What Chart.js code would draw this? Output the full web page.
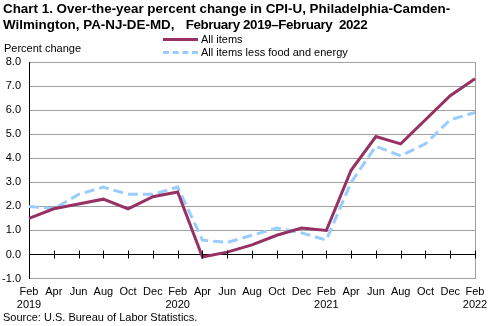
<!DOCTYPE html>
<html>
<head>
<meta charset="utf-8">
<script src="https://cdn.jsdelivr.net/npm/chart.js@4"></script>
<style>
body { margin: 0; background: #fff; }
#wrap { position: relative; width: 496px; height: 326px; font-family: "Liberation Sans", Arial, sans-serif; color: #000; }
#wrap canvas { position: absolute; left: 0; top: 0; }
.title { position: absolute; left: 3px; top: 1px; font-weight: bold; font-size: 13.4px; line-height: 16px; white-space: nowrap; }
.title .dates { letter-spacing: -0.4px; }
.unit { position: absolute; left: 4px; top: 42px; font-size: 11px; }
.source { position: absolute; left: 3px; top: 311px; font-size: 11px; }
.legend { position: absolute; left: 163px; top: 33px; font-size: 11px; line-height: 13px; }
.legend div { display: flex; align-items: center; white-space: nowrap; }
.legend span.swatch { display: inline-block; width: 35px; height: 0; margin-right: 3px; }
</style>
</head>
<body>
<div id="wrap">
    <canvas id="chart" width="496" height="326"></canvas>
    <div class="title">Chart 1. Over-the-year percent change in CPI-U, Philadelphia-Camden-<br>Wilmington, PA-NJ-DE-MD,&nbsp;&nbsp; <span class="dates">February 2019&ndash;February&nbsp; 2022</span></div>
    <div class="unit">Percent change</div>
    <div class="legend" id="legend"></div>
    <div class="source">Source: U.S. Bureau of Labor Statistics.</div>
</div>
<script>
const months = ['Feb', 'Apr', 'Jun', 'Aug', 'Oct', 'Dec', 'Feb', 'Apr', 'Jun', 'Aug', 'Oct', 'Dec', 'Feb', 'Apr', 'Jun', 'Aug', 'Oct', 'Dec', 'Feb']
const years = ['2019', '', '', '', '', '', '2020', '', '', '', '', '', '2021', '', '', '', '', '', '2022']
const allItems = [1.5, 1.9, 2.1, 2.3, 1.9, 2.4, 2.6, -0.1, 0.1, 0.4, 0.8, 1.1, 1.0, 3.5, 4.9, 4.6, 5.6, 6.6, 7.3]
const lessFoodEnergy = [2.0, 1.9, 2.5, 2.8, 2.5, 2.5, 2.8, 0.6, 0.5, 0.8, 1.1, 0.9, 0.6, 3.0, 4.5, 4.1, 4.6, 5.6, 5.9]
const seriesNames = ['All items', 'All items less food and energy']

const maroon = '#963163'
const lightBlue = '#99ccff'
const gridGrey = '#a0a0a0'
const font = { family: '"Liberation Sans", Arial, sans-serif', size: 11 }

const labels = months.map((mo, i) => [mo, years[i]])

// small tick marks crossing the zero line
const zeroTicks = {
    id: 'zeroTicks',
    afterDatasetsDraw(chart) {
        const x = chart.scales.x
        const y0 = chart.scales.y.getPixelForValue(0)
        const ctx = chart.ctx
        ctx.save()
        ctx.strokeStyle = '#000'
        ctx.lineWidth = 1
        ctx.beginPath()
        for (let i = 0; i < labels.length; i++) {
            const px = Math.round(x.getPixelForTick(i)) + 0.5
            ctx.moveTo(px, y0 - 4)
            ctx.lineTo(px, y0 + 4)
        }
        ctx.stroke()
        ctx.restore()
    }
}

new Chart(document.getElementById('chart'), {
    type: 'line',
    data: {
        labels: labels,
        datasets: [{
            label: seriesNames[0],
            data: allItems,
            borderColor: maroon,
            borderWidth: 3,
            pointRadius: 0,
            tension: 0
        }, {
            label: seriesNames[1],
            data: lessFoodEnergy,
            borderColor: lightBlue,
            borderWidth: 3,
            borderDash: [10, 5],
            pointRadius: 0,
            tension: 0
        }]
    },
    options: {
        responsive: false,
        animation: false,
        devicePixelRatio: 1,
        layout: {
            padding: { top: 62, right: 21, bottom: 7, left: 0 }
        },
        scales: {
            x: {
                grid: {
                    drawTicks: false,
                    color: c => c.index === labels.length - 1 ? gridGrey : 'transparent'
                },
                border: { display: false },
                ticks: {
                    autoSkip: false,
                    maxRotation: 0,
                    padding: 7,
                    color: '#000',
                    font: font
                }
            },
            y: {
                min: -1,
                max: 8,
                afterFit: s => { s.width = 29 },
                grid: {
                    drawTicks: false,
                    color: c => c.tick && c.tick.value === 0 ? '#000' : gridGrey
                },
                border: { color: '#000' },
                ticks: {
                    stepSize: 1,
                    padding: 8,
                    color: '#000',
                    font: font,
                    callback: v => v.toFixed(1)
                }
            }
        },
        plugins: {
            legend: { display: false },
            title: { display: false },
            tooltip: { enabled: false }
        }
    },
    plugins: [zeroTicks]
})

const legend = document.getElementById('legend')
const swatches = [`border-top: 3px solid ${maroon}`, `border-top: 3px dashed ${lightBlue}`]
seriesNames.forEach((name, i) => {
    const row = document.createElement('div')
    row.innerHTML = `<span class="swatch" style="${swatches[i]}"></span>${name}`
    legend.appendChild(row)
})
</script>
</body>
</html>
